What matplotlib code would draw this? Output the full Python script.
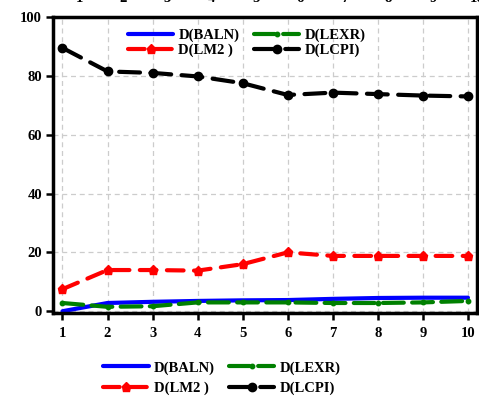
import numpy as np
import matplotlib
matplotlib.use('Agg')
import matplotlib.pyplot as plt

plt.rcParams['font.family'] = ['Liberation Serif', 'DejaVu Serif']
plt.rcParams['font.weight'] = 'bold'

# 数据
periods = [1, 2, 3, 4, 5, 6, 7, 8, 9, 10]
baln = [0.0, 2.8, 3.2, 3.5, 3.7, 3.8, 4.2, 4.5, 4.6, 4.6]
lexr = [2.8, 1.5, 1.7, 3.0, 3.0, 3.0, 2.8, 2.8, 3.0, 3.5]
lm2 = [7.5, 14.0, 14.0, 13.8, 16.0, 20.0, 18.8, 18.8, 18.8, 18.8]
lcpi = [89.5, 81.5, 81.0, 79.8, 77.5, 73.5, 74.3, 73.8, 73.3, 73.0]
y_ticks = [0, 20, 40, 60, 80, 100]
labels = ['D(BALN)', 'D(LEXR)', 'D(LM2 )', 'D(LCPI)']

fig = plt.figure(figsize=(4.79, 3.96), dpi=100)
ax = fig.add_axes([53 / 479, 1 - 313 / 396, 424 / 479, 296 / 396])

l1, = ax.plot(periods, baln, color='#0000ff', lw=3, solid_capstyle='round')
l2, = ax.plot(periods, lexr, color='#008000', lw=3, dashes=(5, 2),
              marker='o', markersize=3.2, dash_capstyle='round')
l3, = ax.plot(periods, lm2, color='#ff0000', lw=3, dashes=(4, 2.5),
              marker='p', markersize=6.5, dash_capstyle='round')
l4, = ax.plot(periods, lcpi, color='black', lw=3, dashes=(5, 2.5),
              marker='o', markersize=6, dash_capstyle='round')

ax.set_xlim(0.79, 10.2)
ax.set_ylim(-0.6, 100)
ax.set_xticks(periods)
ax.set_yticks(y_ticks)
ax.grid(True, color='#cccccc', linestyle=(0, (4, 3)), linewidth=0.9)
for s in ax.spines.values():
    s.set_linewidth(2.5)
ax.tick_params(axis='both', direction='out', length=5, width=1.8,
               labelsize=10.5, pad=3)
ax.tick_params(axis='x', pad=5)
for t in ax.get_xticklabels() + ax.get_yticklabels():
    t.set_fontweight('bold')

# 图例顺序: 第一行 BALN, LEXR; 第二行 LM2, LCPI
handles = [l1, l3, l2, l4]
leg_labels = [labels[0], labels[2], labels[1], labels[3]]
leg_kw = dict(ncol=2, frameon=False, handlelength=3.1, handletextpad=0.35,
              columnspacing=1.0, borderpad=0,
              prop={'family': 'Liberation Serif', 'weight': 'bold', 'size': 10.5})
ax.legend(handles, leg_labels, loc='upper left', bbox_to_anchor=(0.16, 0.985),
          labelspacing=0.1, **leg_kw)
fig.legend(handles, leg_labels, loc='upper left',
           bbox_to_anchor=(96 / 479, 1 - 354 / 396), labelspacing=0.45, **leg_kw)

# 上方被截断的刻度
ax_top = fig.add_axes([53 / 479, 1 - 313 / 396, 424 / 479, 296 / 396])
ax_top.set_xlim(0.41, 10.0)
ax_top.patch.set_visible(False)
ax_top.set_yticks([])
for s in ax_top.spines.values():
    s.set_visible(False)
ax_top.xaxis.tick_top()
ax_top.set_xticks(periods)
ax_top.set_xticklabels([str(p) for p in periods], fontweight='bold')
ax_top.tick_params(axis='x', length=0, labelsize=10.5, pad=8.5)

fig.savefig('out.png', dpi=100)
